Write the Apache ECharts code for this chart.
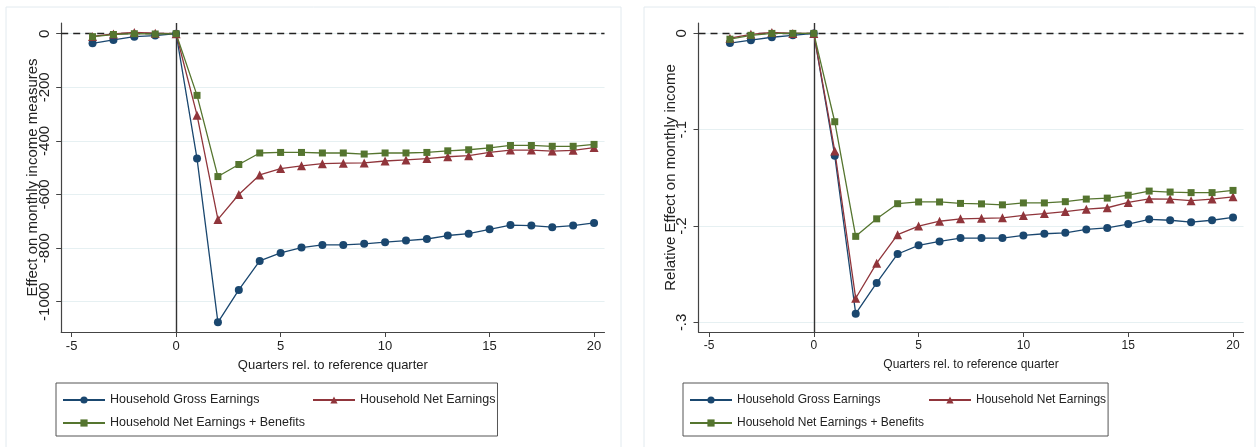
<!DOCTYPE html>
<html>
<head>
<meta charset="utf-8">
<script src="https://cdn.jsdelivr.net/npm/echarts@6/dist/echarts.min.js"></script>
<style>
  html, body { margin: 0; padding: 0; background: #fff; }
  #chart { width: 1260px; height: 447px; }
</style>
</head>
<body>
<div id="chart"></div>
<script>
// quarters relative to reference quarter
const quarters = [-4, -3, -2, -1, 0, 1, 2, 3, 4, 5, 6, 7, 8, 9, 10, 11, 12, 13, 14, 15, 16, 17, 18, 19, 20];

// left panel: effect in levels
const absGross = [-36, -23, -11, -7, 0, -466, -1077, -956, -848, -818, -798, -788, -788, -784, -778, -772, -766, -753, -746, -730, -714, -716, -722, -716, -706];
const absNet = [-10, -1, 5, 2, 0, -304, -693, -600, -527, -503, -493, -485, -483, -482, -475, -471, -466, -459, -455, -443, -434, -434, -438, -435, -425];
const absNetBen = [-11, -3, 0, -1, 0, -230, -533, -488, -445, -443, -443, -445, -445, -449, -445, -445, -443, -437, -433, -426, -417, -417, -420, -420, -413];

// right panel: relative effect
const relGross = [-0.010, -0.007, -0.004, -0.002, 0, -0.127, -0.291, -0.259, -0.229, -0.220, -0.216, -0.2125, -0.2125, -0.2125, -0.2097, -0.208, -0.207, -0.2035, -0.202, -0.198, -0.193, -0.194, -0.196, -0.194, -0.191];
const relNet = [-0.005, -0.001, 0.001, 0, 0, -0.122, -0.275, -0.2385, -0.209, -0.200, -0.195, -0.1925, -0.192, -0.1915, -0.189, -0.187, -0.185, -0.1825, -0.181, -0.1755, -0.1717, -0.172, -0.1737, -0.172, -0.1697];
const relNetBen = [-0.006, -0.002, 0, 0, 0, -0.0917, -0.2107, -0.1925, -0.1768, -0.175, -0.175, -0.1765, -0.177, -0.178, -0.176, -0.176, -0.1747, -0.172, -0.171, -0.168, -0.1637, -0.1647, -0.1653, -0.1653, -0.163];

// tick labels
const xTicks = [-5, 0, 5, 10, 15, 20];
const absTicks = [0, -200, -400, -600, -800, -1000];
const relTicks = [0, -0.1, -0.2, -0.3];

const seriesNames = ["Household Gross Earnings", "Household Net Earnings", "Household Net Earnings + Benefits"];
const colors = ["#1a476f", "#90353b", "#55752f"];
const symbols = ["circle", "triangle", "rect"];
const symbolSizes = [8, 9, 7];

const FONT = "'Liberation Sans', Arial, sans-serif";
const VFS = 15; // rotated (vertical) text
const TXT = "#222";

const chart = echarts.init(document.getElementById("chart"));

function pairs(ys) {
  return quarters.map((q, i) => [q, ys[i]]);
}

function xAxisFor(gridIndex, fs) {
  return {
    gridIndex: gridIndex,
    type: "value",
    min: -5.5,
    max: 20.5,
    name: "Quarters rel. to reference quarter",
    nameLocation: "middle",
    nameGap: 27,
    nameMoveOverlap: false,
    nameTextStyle: { color: TXT, fontFamily: FONT, fontSize: fs },
    axisLine: { show: true, onZero: false, lineStyle: { color: "#444", width: 1.2 } },
    axisTick: { show: true, length: 5, customValues: xTicks, lineStyle: { color: "#444" } },
    axisLabel: { customValues: xTicks, margin: 8, color: TXT, fontFamily: FONT, fontSize: fs },
    splitLine: { show: false }
  };
}

function yAxisFor(gridIndex, name, ticks, min, max, fmt, nameGap, labelMargin) {
  return {
    gridIndex: gridIndex,
    type: "value",
    min: min,
    max: max,
    name: name,
    nameLocation: "middle",
    nameRotate: 90,
    nameGap: nameGap,
    nameMoveOverlap: false,
    nameTextStyle: { color: TXT, fontFamily: FONT, fontSize: VFS },
    axisLine: { show: true, onZero: false, lineStyle: { color: "#444", width: 1.2 } },
    axisTick: { show: true, length: 5, customValues: ticks, lineStyle: { color: "#444" } },
    axisLabel: { customValues: ticks, rotate: 90, margin: labelMargin, color: TXT, fontFamily: FONT, fontSize: VFS, formatter: fmt },
    splitLine: { show: true, lineStyle: { color: "#e6f0f2", width: 1.2 } }
  };
}

function makeSeries(values, gridIndex) {
  return values.map((ys, k) => {
    const s = {
      name: seriesNames[k],
      type: "line",
      xAxisIndex: gridIndex,
      yAxisIndex: gridIndex,
      data: pairs(ys),
      symbol: symbols[k],
      symbolSize: symbolSizes[k],
      color: colors[k],
      lineStyle: { width: 1.3, color: colors[k] },
      itemStyle: { color: colors[k] },
      animation: false
    };
    if (k === 0) {
      // reference lines: y = 0 dashed, x = 0 solid
      s.markLine = {
        silent: true,
        symbol: "none",
        label: { show: false },
        z: 1,
        data: [
          { yAxis: 0, lineStyle: { type: [7, 5], color: "#222", width: 1.3 } },
          { xAxis: 0, lineStyle: { type: "solid", color: "#333", width: 1.4 } }
        ]
      };
    }
    return s;
  });
}

function legendFor(left, firstWidth, boxWidth, fs) {
  return {
    left: left,
    top: 383,
    orient: "horizontal",
    width: boxWidth,
    itemGap: 5,
    itemWidth: 42,
    itemHeight: 9,
    padding: [8, 2, 4, 6],
    borderColor: "#555",
    borderWidth: 1,
    textStyle: { color: TXT, fontFamily: FONT, fontSize: fs, lineHeight: 18 },
    data: [
      { name: seriesNames[0], textStyle: { width: firstWidth } },
      { name: seriesNames[1] },
      { name: seriesNames[2] }
    ]
  };
}

const relFmt = v => (v === 0 ? "0" : "-" + String(Math.abs(Math.round(v * 10) / 10)).replace(/^0/, ""));

chart.setOption({
  animation: false,
  backgroundColor: "#fff",
  graphic: [
    { type: "rect", z: -10, shape: { x: 6, y: 7, width: 615, height: 450 }, style: { fill: "#fff", stroke: "#e2eaef", lineWidth: 1 } },
    { type: "rect", z: -10, shape: { x: 644, y: 7, width: 611, height: 450 }, style: { fill: "#fff", stroke: "#e2eaef", lineWidth: 1 } }
  ],
  grid: [
    { left: 61.2, top: 23, width: 543.3, height: 309 },
    { left: 698.5, top: 23, width: 545, height: 309 }
  ],
  xAxis: [xAxisFor(0, 13), xAxisFor(1, 12)],
  yAxis: [
    yAxisFor(0, "Effect on monthly income measures", absTicks, -1113, 40, v => String(v), 21, 9),
    yAxisFor(1, "Relative Effect on monthly income", relTicks, -0.310, 0.0108, relFmt, 20, 9)
  ],
  legend: [legendFor(56, 197, 465, 12.5), legendFor(683, 186, 455, 12)],
  series: makeSeries([absGross, absNet, absNetBen], 0).concat(makeSeries([relGross, relNet, relNetBen], 1))
});
</script>
</body>
</html>
